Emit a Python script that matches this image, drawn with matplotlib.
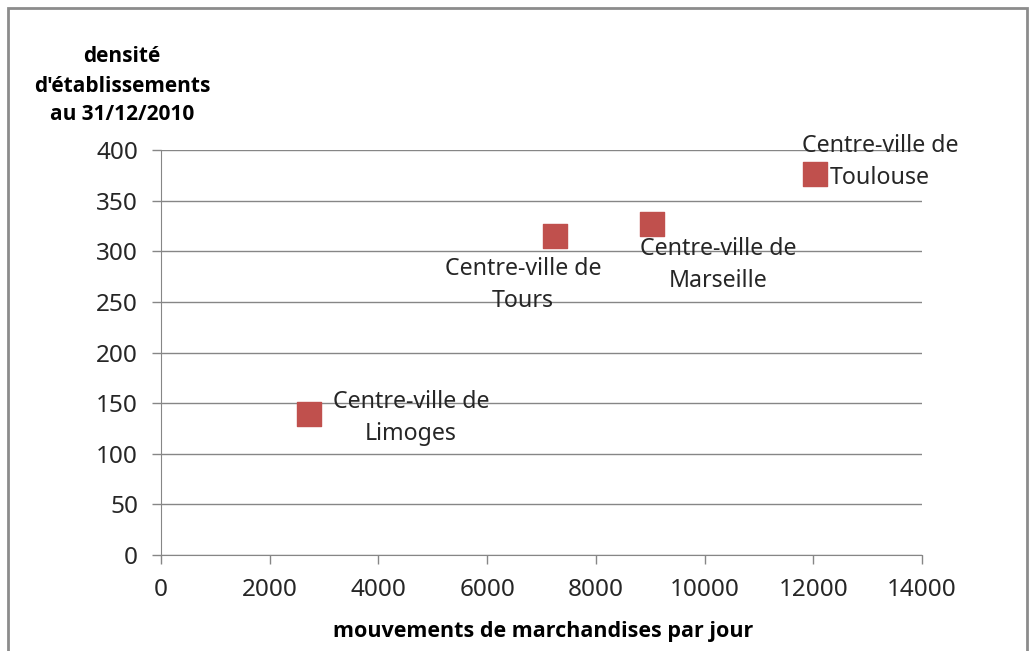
import matplotlib.pyplot as plt
from matplotlib.patches import Rectangle

plt.rcParams['font.family'] = ['Noto Sans', 'DejaVu Sans']

# data
villes = ['Centre-ville de\nLimoges', 'Centre-ville de\nTours',
          'Centre-ville de\nMarseille', 'Centre-ville de\nToulouse']
mouvements = [2720, 7250, 9030, 12030]
densite = [139, 315, 327, 376]
# label offsets in pixels (dx, dy)
offsets = [(102, -4), (-32, -49), (66, -41), (65, 12)]

W, H = 1032, 651
fig = plt.figure(figsize=(W / 100, H / 100), dpi=100)
ax = fig.add_axes([161 / W, 1 - 555 / H, (922 - 161) / W, (555 - 150) / H])

grey = '#868686'
ax.scatter(mouvements, densite, marker='s', s=300, color='#c0504d',
           edgecolors='#c0504d', zorder=3)
for v, x, y, (dx, dy) in zip(villes, mouvements, densite, offsets):
    ax.annotate(v, (x, y), xytext=(dx, dy), textcoords='offset pixels',
                ha='center', va='center', multialignment='center',
                fontsize=16.7, color='#262626', linespacing=1.45, zorder=4)

ax.set_xlim(0, 14000)
ax.set_ylim(0, 400)
ax.set_xticks(range(0, 14001, 2000))
ax.set_yticks(range(0, 401, 50))
ax.yaxis.grid(True, color=grey, linewidth=1)
ax.set_axisbelow(True)
for s in ['top', 'right']:
    ax.spines[s].set_visible(False)
for s in ['left', 'bottom']:
    ax.spines[s].set_color(grey)
ax.tick_params(axis='both', colors=grey, labelcolor='#262626',
               labelsize=17.5, length=6.5, width=1)
ax.tick_params(axis='x', pad=10)
ax.tick_params(axis='y', pad=10)

bold = ['Open Sans', 'Lato', 'DejaVu Sans']
fig.text(122 / W, 1 - 86 / H, "densité\nd'établissements\nau 31/12/2010",
         ha='center', va='center', multialignment='center', fontsize=15,
         fontweight='bold', family=bold, linespacing=1.5)
fig.text(543 / W, 1 - 631 / H, 'mouvements de marchandises par jour',
         ha='center', va='center', fontsize=15.5, fontweight='bold',
         family=bold)

fig.patches.append(Rectangle((8 / W, -0.01), (1027 - 8) / W, 1 - 8 / H + 0.01,
                             transform=fig.transFigure, fill=False,
                             edgecolor='#8c8c8c', linewidth=2))

fig.savefig('out.png', dpi=100, facecolor='white')
